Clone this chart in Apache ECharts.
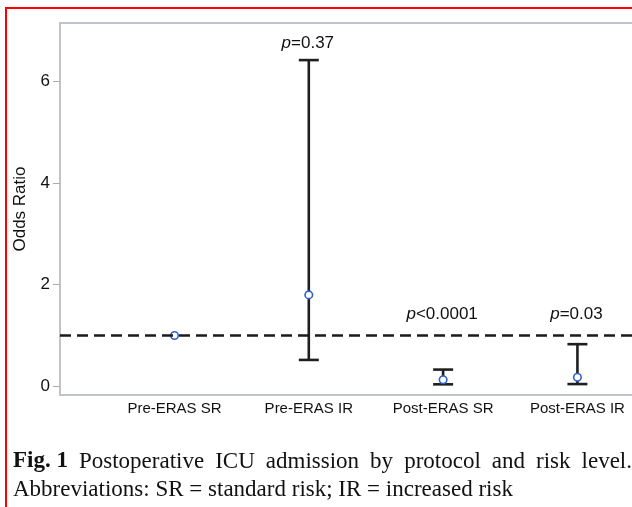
<!DOCTYPE html>
<html>
<head>
<meta charset="utf-8">
<script src="https://cdn.jsdelivr.net/npm/echarts@6/dist/echarts.min.js"></script>
<style>
html,body{margin:0;padding:0;background:#fff;}
#chart{width:632px;height:507px;}
</style>
</head>
<body>
<div id="chart"></div>
<script>
// ---- data ----
const categories = ['Pre-ERAS SR', 'Pre-ERAS IR', 'Post-ERAS SR', 'Post-ERAS IR'];
const oddsRatio = [1.0, 1.80, 0.13, 0.18];
const ciLower = [null, 0.52, 0.04, 0.045];
const ciUpper = [null, 6.42, 0.33, 0.83];
const pLabels = ['', 'p=0.37', 'p<0.0001', 'p=0.03'];
const yTicks = [0, 2, 4, 6];
const referenceOR = 1;
const yAxisTitle = 'Odds Ratio';
const captionBold = 'Fig. 1';
const captionLine1 = 'Postoperative ICU admission by protocol and risk level.';
const captionLine2 = 'Abbreviations: SR = standard risk; IR = increased risk';

// ---- build ----
const xPos = categories.map((c, i) => i + 1);
const pointData = oddsRatio.map((v, i) => [xPos[i], v]);
const barData = [];
categories.forEach((c, i) => {
  if (ciLower[i] != null) barData.push([xPos[i], ciLower[i], ciUpper[i], i]);
});

const SANS = '"Liberation Sans", Arial, sans-serif';
const SERIF = '"Liberation Serif", "Times New Roman", serif';
const chart = echarts.init(document.getElementById('chart'), null, {renderer: 'canvas'});

function measure(text, font) {
  const ctx = document.createElement('canvas').getContext('2d');
  ctx.font = font;
  return ctx.measureText(text).width;
}

// justified caption line 1
const capSize = 23;
const fontBold = 'bold ' + capSize + 'px ' + SERIF;
const fontReg = capSize + 'px ' + SERIF;
const capLeft = 13, capRight = 632;
const words = captionLine1.split(' ');
const boldW = measure(captionBold, fontBold);
let wordsW = 0;
const wordW = words.map(w => { const m = measure(w, fontReg); wordsW += m; return m; });
const gap = (capRight - capLeft - boldW - wordsW) / words.length;
const captionEls = [];
captionEls.push({type: 'text', left: capLeft, top: 450, style: {text: captionBold, font: fontBold, fill: '#111'}});
let cx = capLeft + boldW + gap;
words.forEach((w, i) => {
  captionEls.push({type: 'text', left: cx, top: 450, style: {text: w, font: fontReg, fill: '#111'}});
  cx += wordW[i] + gap;
});
captionEls.push({type: 'text', left: capLeft, top: 478, style: {text: captionLine2, font: fontReg, fill: '#111'}});

const option = {
  animation: false,
  backgroundColor: '#fff',
  grid: {left: 60, top: 23, right: -6, bottom: 112, containLabel: false, outerBoundsMode: 'none',
         show: true, borderColor: '#c0c3c8', borderWidth: 2, backgroundColor: 'transparent'},
  xAxis: {
    type: 'value', min: 0.1476, max: 4.451,
    splitLine: {show: false},
    axisLine: {show: true, onZero: false, lineStyle: {color: '#c0c3c8', width: 2}},
    axisTick: {show: false},
    axisLabel: {
      show: true, customValues: xPos, margin: 6,
      formatter: v => categories[Math.round(v) - 1] || '',
      fontFamily: SANS, fontSize: 15, color: '#111'
    }
  },
  yAxis: {
    type: 'value', min: -0.17, max: 7.15,
    name: yAxisTitle, nameLocation: 'middle', nameRotate: 90, nameGap: 31,
    nameTextStyle: {fontFamily: SANS, fontSize: 17, color: '#111'},
    splitLine: {show: false},
    axisLine: {show: true, onZero: false, lineStyle: {color: '#c0c3c8', width: 2}},
    axisTick: {show: true, customValues: yTicks, length: 7, lineStyle: {color: '#a8abb0', width: 1}},
    axisLabel: {show: true, customValues: yTicks, margin: 10, fontFamily: SANS, fontSize: 17, color: '#111'}
  },
  series: [
    {
      type: 'line', data: [], z: 1, silent: true,
      markLine: {
        silent: true, symbol: ['none', 'none'], label: {show: false},
        lineStyle: {color: '#1a1a1a', width: 2.5, type: [11, 6]},
        data: [{yAxis: referenceOR}]
      }
    },
    {
      type: 'custom', z: 3, data: barData, silent: true,
      renderItem: function (params, api) {
        const x = api.value(0);
        const lo = api.coord([x, api.value(1)]);
        const hi = api.coord([x, api.value(2)]);
        const idx = api.value(3);
        const ref = api.coord([x, referenceOR]);
        const capW = 10;
        const st = {stroke: '#1f1f1f', lineWidth: 2.6};
        const children = [
          {type: 'line', shape: {x1: hi[0], y1: hi[1], x2: lo[0], y2: lo[1]}, style: st},
          {type: 'line', shape: {x1: hi[0] - capW, y1: hi[1], x2: hi[0] + capW, y2: hi[1]}, style: st},
          {type: 'line', shape: {x1: lo[0] - capW, y1: lo[1], x2: lo[0] + capW, y2: lo[1]}, style: st}
        ];
        const lab = pLabels[idx];
        if (lab) {
          const anchorY = Math.min(hi[1], ref[1]);
          const off = hi[1] < ref[1] ? 8 : 13;
          children.push({
            type: 'text', x: hi[0] - 1, y: anchorY - off,
            style: {
              text: '{i|' + lab.charAt(0) + '}{n|' + lab.slice(1) + '}',
              align: 'center', verticalAlign: 'bottom',
              rich: {
                i: {fontFamily: SANS, fontSize: 17, fontStyle: 'italic', fill: '#111'},
                n: {fontFamily: SANS, fontSize: 17, fill: '#111'}
              }
            }
          });
        }
        return {type: 'group', children: children};
      }
    },
    {
      type: 'scatter', z: 4, data: pointData, symbol: 'circle', symbolSize: 7.5,
      itemStyle: {color: '#ffffff', borderColor: '#2f5fd0', borderWidth: 1.6, opacity: 1}
    }
  ],
  graphic: [
    {type: 'rect', z: 100, shape: {x: 6, y: 8, width: 700, height: 600},
     style: {fill: 'none', stroke: '#ff0000', lineWidth: 2}}
  ].concat(captionEls)
};
chart.setOption(option);
</script>
</body>
</html>
